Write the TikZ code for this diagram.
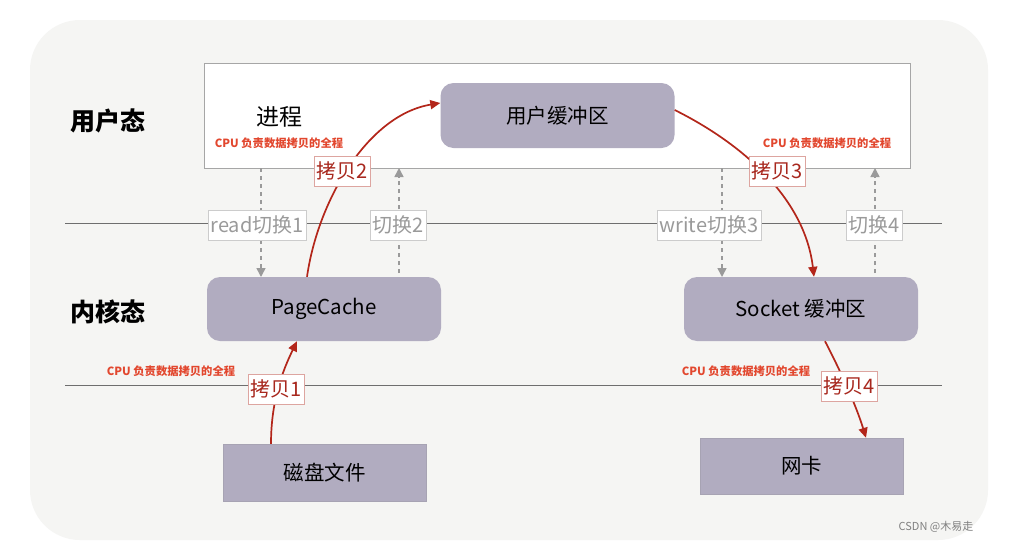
\documentclass[tikz,border=0pt]{standalone}
\usepackage{fontspec}
\setmainfont{Noto Sans CJK SC}
\usetikzlibrary{arrows.meta}
\definecolor{bgc}{HTML}{F5F5F3}
\definecolor{boxc}{HTML}{B1ACC0}
\definecolor{redarr}{HTML}{B3261A}
\definecolor{redtxt}{HTML}{E2472E}
\definecolor{lblred}{HTML}{A8281E}
\definecolor{lblbd}{HTML}{DDA5A0}
\definecolor{grayc}{HTML}{9A9A9A}
\definecolor{linec}{HTML}{6E6E6E}
\tikzset{
  rbox/.style={fill=boxc, rounded corners=13pt, inner sep=0pt, font=\fontsize{20.5}{22}\selectfont},
  sbox/.style={fill=boxc, draw=boxc!80!gray, inner sep=0pt, font=\fontsize{20.5}{22}\selectfont},
  cpulbl/.style={text=redtxt, font=\bfseries\fontsize{11.3}{13}\selectfont, inner sep=0pt},
  copylbl/.style={fill=white, draw=lblbd, text=lblred, font=\fontsize{20}{22}\selectfont, inner sep=2.5pt, minimum height=30pt},
  swlbl/.style={fill=white, draw=gray!40, text=grayc, font=\fontsize{20}{22}\selectfont, inner sep=2.5pt, minimum height=30pt},
  redarrow/.style={draw=redarr, line width=1.7pt, -{Triangle[length=10pt,width=9pt]}},
  swarrow/.style={draw=grayc, line width=1.5pt, dash pattern=on 4pt off 4pt, -{Triangle[length=9pt,width=9pt]}},
  modelbl/.style={font=\bfseries\fontsize{25}{27}\selectfont, inner sep=0pt},
  sepline/.style={draw=linec, line width=1pt}
}
\begin{document}
\begin{tikzpicture}[x=1pt,y=-1pt]
\useasboundingbox (0,0) rectangle (1012,544);
\fill[white] (0,0) rectangle (1012,544);
\fill[bgc, rounded corners=50pt] (30,20) rectangle (988,540);
% user space box
\draw[fill=white, draw=gray!70, line width=0.8pt] (204,63) rectangle (910,168);
% separator lines
\coordinate (l1a) at (65,223); \coordinate (l1b) at (942,223);
\coordinate (l2a) at (65,385); \coordinate (l2b) at (942,385);
\draw[sepline] (l1a) -- (l1b);
\draw[sepline] (l2a) -- (l2b);
% mode labels
\node[modelbl] (user) at (108,121) {用户态};
\node[modelbl] (kernel) at (108,312) {内核态};
\node[font=\fontsize{23}{25}\selectfont, inner sep=0pt] (proc) at (279,117) {进程};
% boxes
\node[rbox, minimum width=234pt, minimum height=65pt] (ubuf) at (557.5,115.5) {用户缓冲区};
\node[rbox, minimum width=234pt, minimum height=64pt] (pc) at (324,309) {PageCache};
\node[rbox, minimum width=234pt, minimum height=64pt] (sock) at (801,309) {Socket 缓冲区};
\node[sbox, minimum width=203pt, minimum height=57pt] (disk) at (324.5,472.5) {磁盘文件};
\node[sbox, minimum width=203pt, minimum height=56pt] (nic) at (801.5,466) {网卡};
% CPU labels
\node[cpulbl] (cpu1) at (279,143) {CPU 负责数据拷贝的全程};
\node[cpulbl] (cpu2) at (827,143) {CPU 负责数据拷贝的全程};
\node[cpulbl] (cpu3) at (171,371) {CPU 负责数据拷贝的全程};
\node[cpulbl] (cpu4) at (746,371) {CPU 负责数据拷贝的全程};
% switch arrows
\coordinate (s1a) at (261,168); \coordinate (s1b) at (261,277);
\coordinate (s2a) at (399,273); \coordinate (s2b) at (399,168);
\coordinate (s3a) at (722,168); \coordinate (s3b) at (722,277);
\coordinate (s4a) at (875,273); \coordinate (s4b) at (875,168);
\draw[swarrow] (s1a) -- (s1b);
\draw[swarrow] (s2a) -- (s2b);
\draw[swarrow] (s3a) -- (s3b);
\draw[swarrow] (s4a) -- (s4b);
\node[swlbl] (sw1) at (257,225) {read切换1};
\node[swlbl] (sw2) at (398,225) {切换2};
\node[swlbl] (sw3) at (709,225) {write切换3};
\node[swlbl] (sw4) at (874,225) {切换4};
% copy arrows
\draw[redarrow] (disk.north -| 271,0) .. controls (271,400) and (283,370) .. (pc.south -| 297,0);
\draw[redarrow] (pc.north -| 307,0) .. controls (318,200) and (368,115) .. (ubuf.west |- 0,103);
\draw[redarrow] (ubuf.east |- 0,110) .. controls (745,145) and (805,200) .. (sock.north -| 814,0);
\draw[redarrow] (sock.south -| 825,0) .. controls (840,370) and (856,405) .. (nic.north -| 866,0);
\node[copylbl] (c1) at (276,389) {拷贝1};
\node[copylbl] (c2) at (342,171) {拷贝2};
\node[copylbl] (c3) at (777,171) {拷贝3};
\node[copylbl] (c4) at (849,386) {拷贝4};
% watermark
\node[text=gray, font=\fontsize{11}{12}\selectfont, inner sep=0pt] (wm) at (936,527) {CSDN @木易走};
\end{tikzpicture}
\end{document}
